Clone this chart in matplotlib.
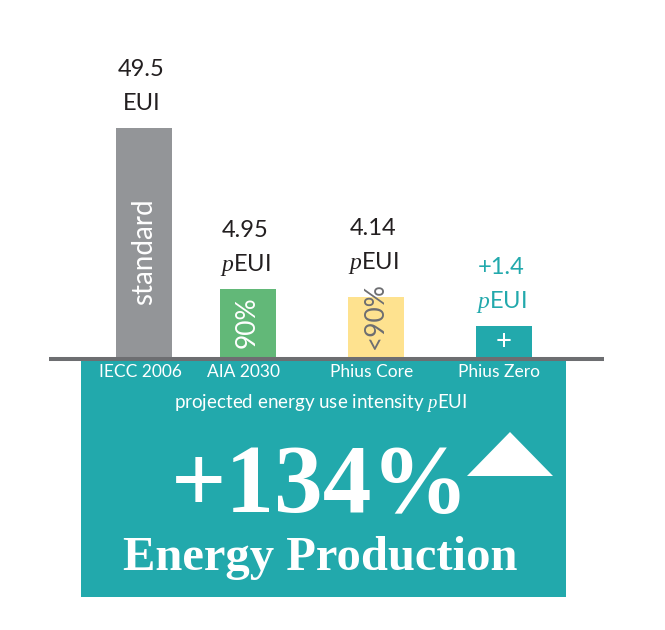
import matplotlib
matplotlib.use("Agg")
import matplotlib.pyplot as plt
from matplotlib.patches import Rectangle, Polygon

plt.rcParams["font.family"] = ["Lato", "DejaVu Sans"]
plt.rcParams["mathtext.fontset"] = "custom"
plt.rcParams["mathtext.it"] = "Liberation Serif:italic"
plt.rcParams["mathtext.rm"] = "Lato"

# data
categories = ["IECC 2006", "AIA 2030", "Phius Core", "Phius Zero"]
value_labels = ["49.5", "4.95", "4.14", "+1.4"]
unit_labels = ["EUI", r"$\mathit{p}$EUI", r"$\mathit{p}$EUI", r"$\mathit{p}$EUI"]
bar_text = ["standard", "90%", "<90%", "+"]
bar_heights = [230, 69, 61, 32]  # illustrative heights, the infographic is not to scale
caption = r"projected energy use intensity $\mathit{p}$EUI"
headline = "+134%"
subline = "Energy Production"

# layout / style
W, H = 665, 630
base_y = 358
bar_x = [144, 247.5, 375.5, 503.5]
bar_colors = ["#939598", "#62b878", "#fee28f", "#22a9ac"]
inner_y = [106, 36, 42, 16]
inner_colors = ["white", "white", "#6d6e71", "white"]
inner_size = [20, 19, 19, 20]
label_lift = [0, 0, 10, 0]
text_colors = ["#231f20", "#231f20", "#231f20", "#22a9ac"]
teal = "#22a9ac"

fig = plt.figure(figsize=(W / 100, H / 100), dpi=100)

# bars axes, y measured upward from the baseline in pixels
ax = fig.add_axes([0, (H - base_y) / H, 1, base_y / H])
ax.set_xlim(0, W)
ax.set_ylim(0, base_y)
ax.axis("off")
ax.bar(bar_x, bar_heights, width=56, color=bar_colors, linewidth=0)

for i, h in enumerate(bar_heights):
    x = bar_x[i] - 2.5
    ax.text(x, h + 18 + label_lift[i], unit_labels[i], ha="center", va="baseline",
            fontsize=17, color=text_colors[i])
    ax.text(x, h + 52 + label_lift[i], value_labels[i], ha="center", va="baseline",
            fontsize=17, color=text_colors[i])
    ax.text(bar_x[i], inner_y[i], bar_text[i], rotation=90 if i < 3 else 0,
            ha="center", va="center", fontsize=inner_size[i], color=inner_colors[i])

# overlay axes in pixel coordinates (origin top-left)
ov = fig.add_axes([0, 0, 1, 1])
ov.set_xlim(0, W)
ov.set_ylim(H, 0)
ov.axis("off")

ov.add_patch(Rectangle((81, 359), 566 - 81, 597 - 359, color=teal, linewidth=0))
ov.plot([49, 604], [359, 359], color="#6d6e71", lw=2.9, solid_capstyle="butt")

for i, cat in enumerate(categories):
    ov.text(bar_x[i] - 4, 377, cat, ha="center", va="baseline", fontsize=12.5, color="white")

ov.text(321, 408, caption, ha="center", va="baseline", fontsize=13.5, color="white")
ov.text(320, 512, headline, ha="center", va="baseline", fontsize=70,
        family="Liberation Serif", weight="bold", color="white")
ov.text(320, 570, subline, ha="center", va="baseline", fontsize=35,
        family="Liberation Serif", weight="bold", color="white")
ov.add_patch(Polygon([(467, 476), (510, 432), (553, 476)], closed=True,
                     color="white", linewidth=0))

fig.savefig("out.png", dpi=100, facecolor="white")
